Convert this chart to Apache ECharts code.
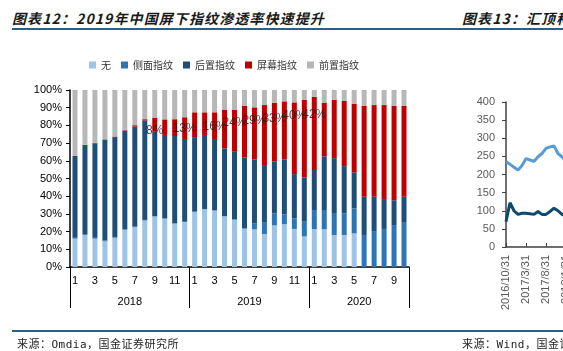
<!DOCTYPE html>
<html>
<head>
<meta charset="utf-8">
<script src="https://cdn.jsdelivr.net/npm/echarts/dist/echarts.min.js"></script>
<style>
  body { margin: 0; width: 563px; height: 351px; overflow: hidden; background: #fff; position: relative; }
  .title { position: absolute; top: 8px; font-family: "Noto Sans CJK SC"; font-weight: bold; font-style: italic;
           font-size: 14px; letter-spacing: 1.1px; color: #1a1a1a; white-space: nowrap; }
  .rule { position: absolute; left: 12px; width: 551px; height: 2px; background: #2b5f86; }
  .source { position: absolute; top: 335px; font-family: "DejaVu Sans Mono", "Noto Sans CJK SC"; font-size: 11px;
            letter-spacing: 0.5px; color: #222; white-space: nowrap; }
  #main { position: absolute; left: 0; top: 0; width: 440px; height: 351px; }
  #right { position: absolute; left: 440px; top: 0; width: 200px; height: 351px; }
</style>
</head>
<body>
<div class="title" style="left:12px">图表12：2019年中国屏下指纹渗透率快速提升</div>
<div class="title" style="left:462px">图表13：汇顶科技</div>
<div class="rule" style="top:28px"></div>
<div id="main"></div>
<div id="right"></div>
<div class="rule" style="top:330px"></div>
<div class="source" style="left:17px">来源：Omdia，国金证券研究所</div>
<div class="source" style="left:462px">来源：Wind，国金证券研究所</div>

<script>
// 2018/1 - 2020/10, monthly
var months = [1,2,3,4,5,6,7,8,9,10,11,12, 1,2,3,4,5,6,7,8,9,10,11,12, 1,2,3,4,5,6,7,8,9,10];
var years = ['2018', '2019', '2020'];
var yearSpans = [12, 12, 10];

var noFp    = [16, 18, 16, 14.5, 16.5, 21, 22.5, 26.3, 28.5, 27.3, 24.5, 25.4, 31, 32.6, 31.8, 28.6, 26.7, 21.6, 21.3, 18.6, 23.5, 24.2, 21.5, 17.3, 21.4, 21.4, 18.1, 18.1, 19, 0, 0, 0, 0, 0];
var sideFp  = [0.5, 0.5, 0.5, 0.5, 0.5, 0.3, 0.3, 0.3, 0.3, 0.2, 0.2, 0.2, 0.3, 0.2, 0.2, 0.2, 0.2, 0.2, 3.4, 6.8, 6.8, 5.6, 6, 8.3, 10.8, 10.8, 12.4, 12.2, 14.1, 18.1, 20.3, 21.5, 23.7, 25];
var rearFp  = [46.2, 49.9, 53.2, 56.8, 56.4, 55.7, 56.5, 56.1, 47.6, 47.1, 49.3, 46.2, 42.1, 41.8, 39.8, 38.2, 38.2, 40, 36.1, 32.2, 29.4, 31, 25, 25, 22.6, 30.3, 31, 26.7, 20.4, 21.6, 19.4, 16.9, 14, 14.7];
var screenFp = [0, 0.6, 0.4, 0.3, 0.3, 0.3, 0.8, 0.8, 8, 8.8, 9.5, 12.8, 14, 12.8, 15.6, 21.7, 23.6, 29.2, 29.4, 33.9, 33, 32.8, 40.5, 43.8, 41.4, 30.4, 32.9, 36.8, 38.8, 51.3, 51.8, 53.1, 53.3, 51.3];
var frontFp = [37.3, 31, 29.9, 27.9, 26.3, 22.7, 19.9, 16.5, 15.6, 16.6, 16.5, 15.4, 12.6, 12.6, 12.6, 11.3, 11.3, 9, 9.8, 8.5, 7.3, 6.4, 7, 5.6, 3.8, 7.1, 5.6, 6.2, 7.7, 9, 8.5, 8.5, 9, 9];

// screen fingerprint share labels (month index, value %)
var shareIdx = [8, 11, 14, 16, 18, 20, 22, 24];
var shareVal = [8, 13, 16, 24, 29, 33, 40, 42];

// right chart (cut off by the page edge)
var rightDates = ['2016/10/31','2016/11/30','2016/12/31','2017/1/31','2017/2/28','2017/3/31','2017/4/30','2017/5/31',
                  '2017/6/30','2017/7/31','2017/8/31','2017/9/30','2017/10/31','2017/11/30','2017/12/31','2018/1/31'];
var lineA = [235, 228, 220, 212, 225, 244, 240, 236, 249, 258, 272, 276, 279, 258, 249, 235];
var lineB = [70, 122, 100, 90, 93, 93, 92, 90, 98, 90, 90, 98, 107, 100, 90, 85];

var yearAxis = [];
var yearTicks = [];
var yearLabelIdx = [];
var pos = 0;
years.forEach(function (y, i) {
  yearTicks.push(pos);
  for (var k = 0; k < yearSpans[i]; k++) yearAxis.push('');
  yearAxis[pos + yearSpans[i] / 2] = y;
  yearLabelIdx.push(pos + yearSpans[i] / 2);
  pos += yearSpans[i];
});
yearAxis.push('');
yearTicks.push(pos);

var colors = ['#9dc3e6', '#2e75b6', '#1f4e79', '#c00000', '#b7b7b7'];
var names = ['无', '侧面指纹', '后置指纹', '屏幕指纹', '前置指纹'];
var values = [noFp, sideFp, rearFp, screenFp, frontFp];

var chart = echarts.init(document.getElementById('main'));
var series = names.map(function (n, i) {
  return {
    name: n,
    type: 'bar',
    stack: 'total',
    barWidth: 5,
    itemStyle: { color: colors[i] },
    data: values[i]
  };
});
series.push({
  type: 'scatter',
  yAxisIndex: 1,
  symbolSize: 0,
  silent: true,
  z: 5,
  label: {
    show: true,
    position: 'inside',
    fontFamily: 'Liberation Sans',
    fontSize: 12,
    color: '#1a1a1a',
    textBorderWidth: 0,
    formatter: function (p) { return p.value[1] + '%'; }
  },
  data: shareIdx.map(function (m, i) { return [m, shareVal[i]]; })
});

chart.setOption({
  animation: false,
  textStyle: { fontFamily: 'Liberation Sans' },
  legend: {
    data: names.map(function (n) { return { name: n, icon: 'rect' }; }),
    left: 84,
    top: 55,
    itemWidth: 7,
    itemHeight: 7,
    itemGap: 10,
    textStyle: { fontFamily: 'Noto Sans CJK SC', fontSize: 10, color: '#333' }
  },
  grid: { left: 70, top: 90, width: 339, height: 177 },
  xAxis: [{
    type: 'category',
    data: months,
    axisLine: { onZero: false, lineStyle: { color: '#000', width: 1.5 } },
    axisTick: { interval: 0, length: 20, lineStyle: { color: '#000' } },
    axisLabel: { interval: 1, margin: 8, fontSize: 11, color: '#000' }
  }, {
    type: 'category',
    position: 'bottom',
    boundaryGap: false,
    data: yearAxis,
    axisLine: { show: false, onZero: false },
    axisTick: {
      length: 41,
      lineStyle: { color: '#000' },
      interval: function (i) { return yearTicks.indexOf(i) >= 0; }
    },
    axisLabel: {
      margin: 29,
      fontSize: 11,
      color: '#000',
      interval: function (i) { return yearLabelIdx.indexOf(i) >= 0; }
    }
  }],
  yAxis: [{
    type: 'value',
    min: 0,
    max: 100,
    interval: 10,
    axisLine: { show: true, lineStyle: { color: '#000', width: 1.5 } },
    axisTick: { show: true, length: 4, lineStyle: { color: '#000' } },
    splitLine: { show: false },
    axisLabel: { formatter: '{value}%', fontSize: 11, color: '#000', margin: 8 }
  }, {
    type: 'value',
    min: -275,
    max: 92.5,
    show: false,
    splitLine: { show: false }
  }],
  series: series
});

var right = echarts.init(document.getElementById('right'));
right.setOption({
  animation: false,
  textStyle: { fontFamily: 'Liberation Sans' },
  grid: { left: 66, top: 102, width: 60, height: 145 },
  xAxis: {
    type: 'category',
    boundaryGap: false,
    data: rightDates,
    axisLine: { lineStyle: { color: '#404040', width: 1.5 } },
    axisTick: { interval: 4, inside: true, length: 4, lineStyle: { color: '#404040' } },
    axisLabel: { interval: 4, rotate: 90, margin: 8, fontSize: 11, color: '#595959' }
  },
  yAxis: {
    type: 'value',
    min: 0,
    max: 400,
    interval: 50,
    axisLine: { show: true, lineStyle: { color: '#404040', width: 1.5 } },
    axisTick: { show: true, length: 4, lineStyle: { color: '#404040' } },
    splitLine: { show: false },
    axisLabel: { fontSize: 11, color: '#595959', margin: 11 }
  },
  series: [
    { type: 'line', data: lineA, symbol: 'none', lineStyle: { color: '#5b9bd5', width: 3 } },
    { type: 'line', data: lineB, symbol: 'none', lineStyle: { color: '#0e4a6e', width: 3 } }
  ]
});
</script>
</body>
</html>
